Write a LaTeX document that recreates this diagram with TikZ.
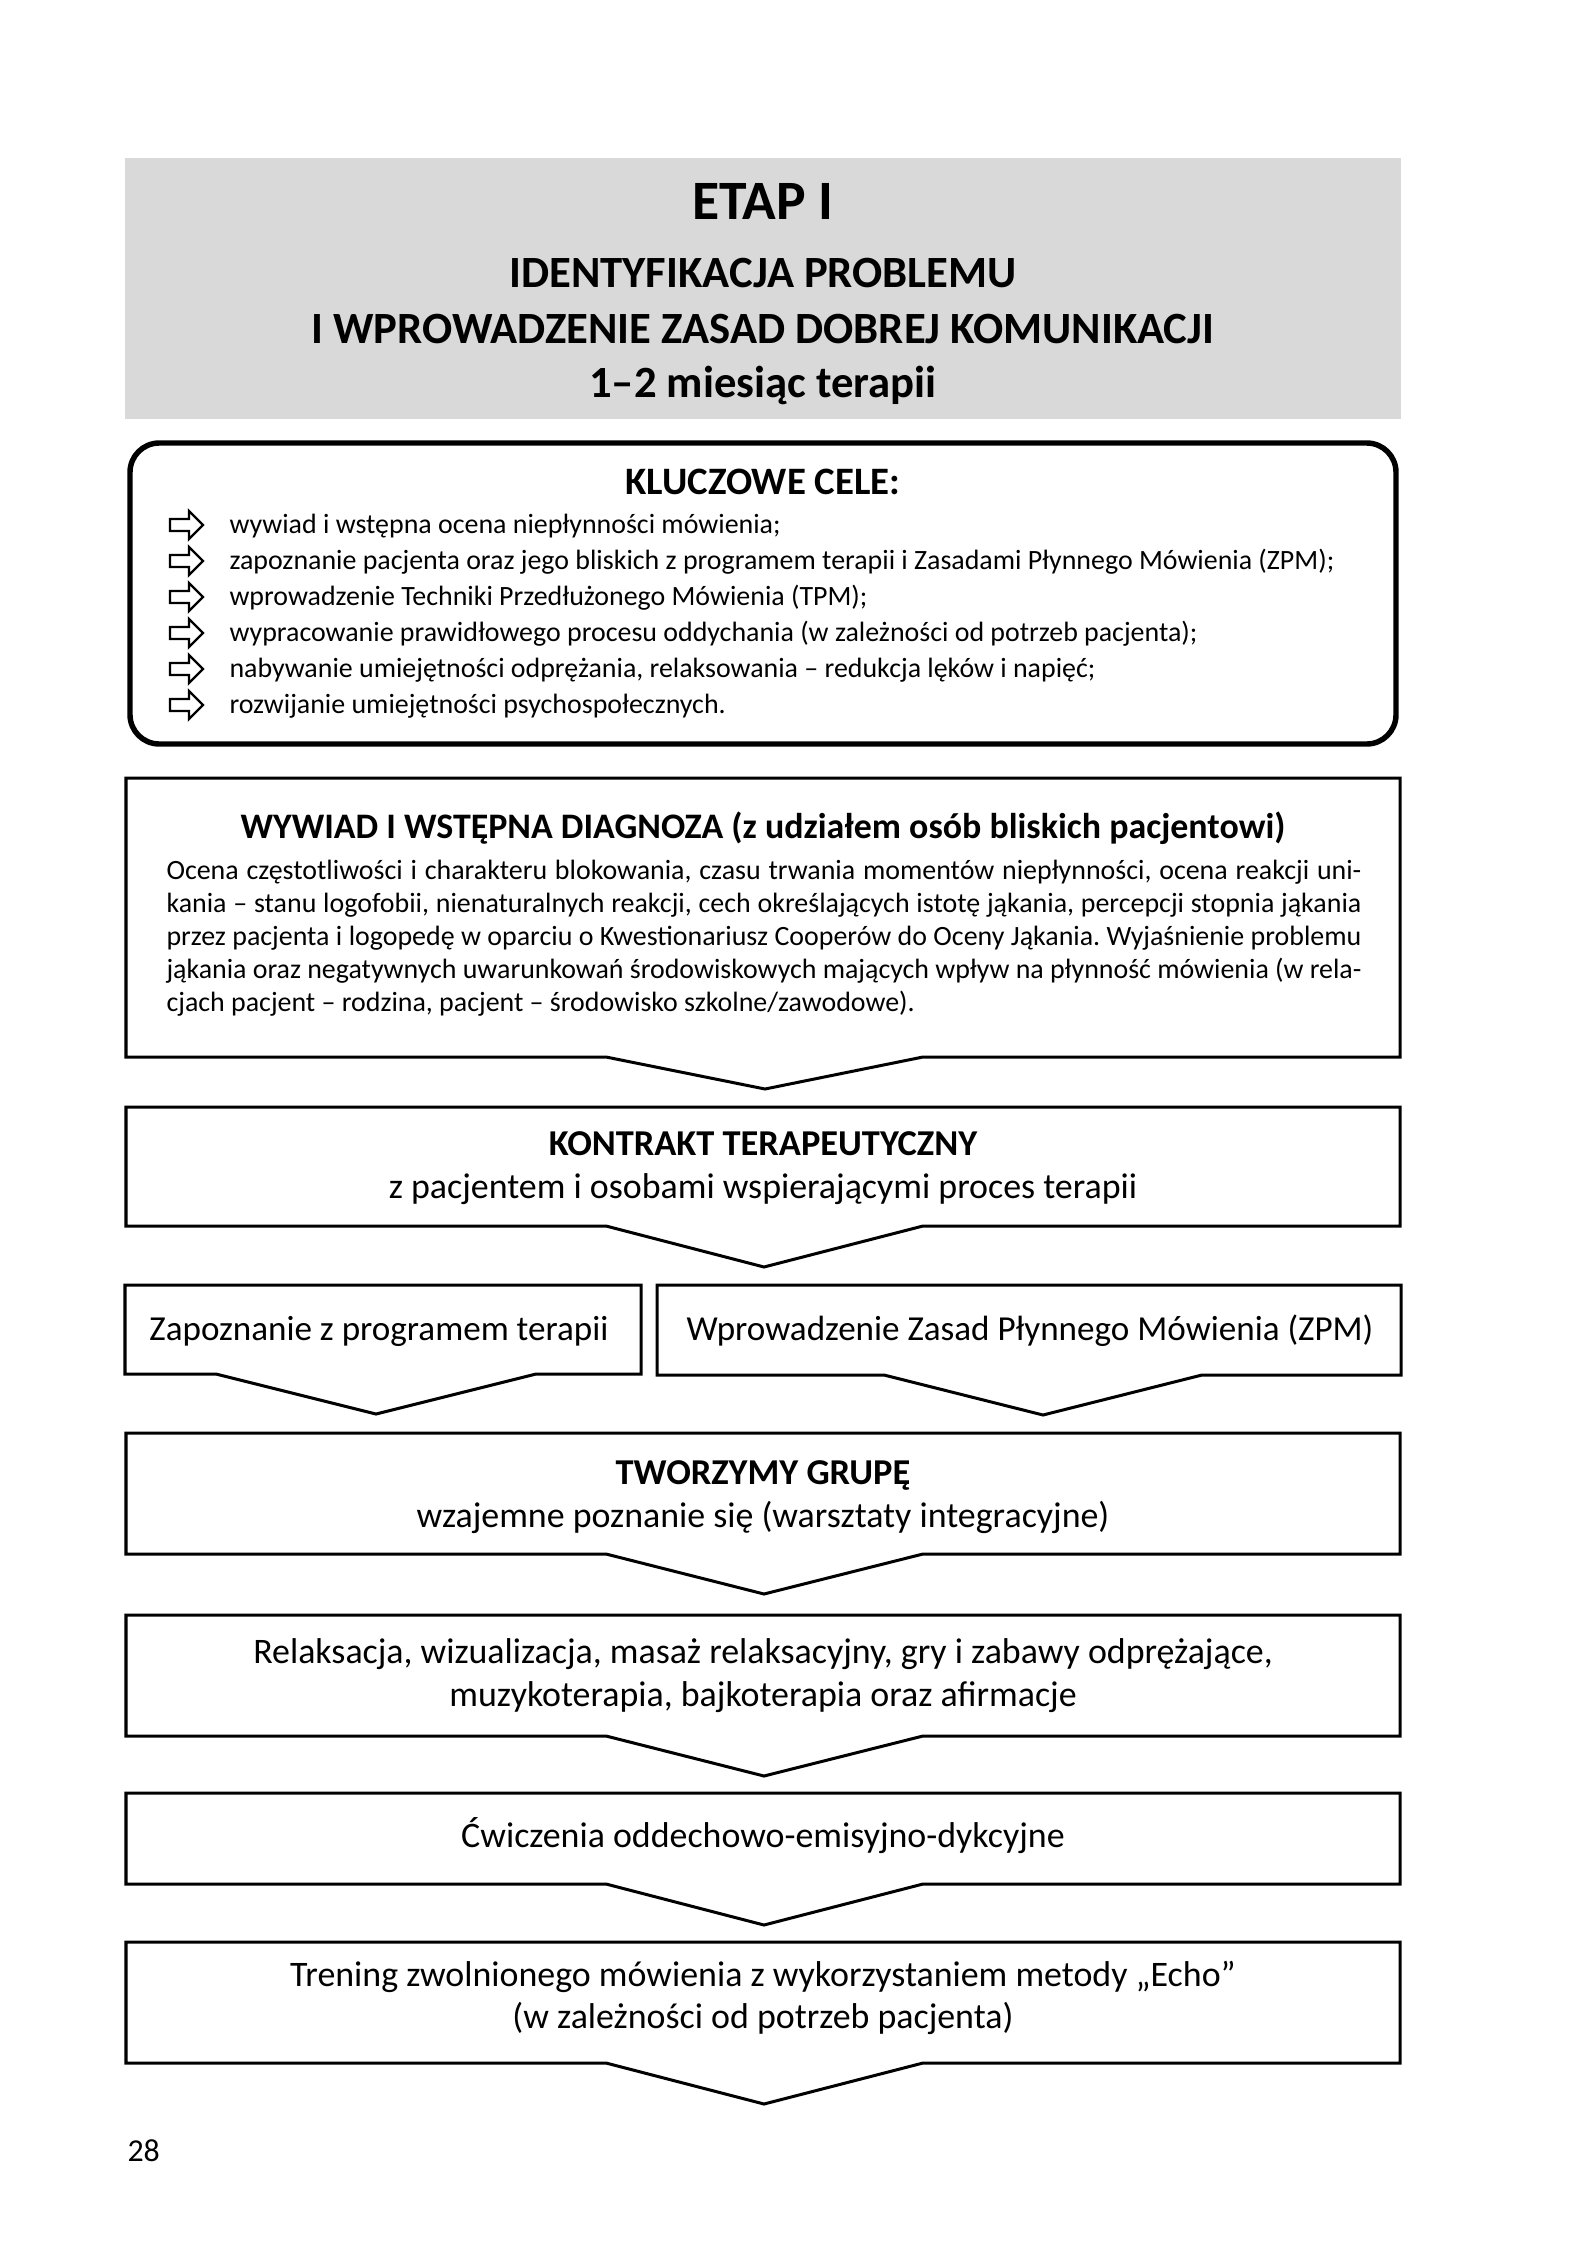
\documentclass[tikz,border=0pt]{standalone}
\usepackage{fontspec}
\setmainfont{Carlito}
\frenchspacing
\newcommand\chev[8]{\draw[boxline] (#1,#2) -- (#3,#2) -- (#3,#4) -- (#6,#4) -- (#7,#8) -- (#5,#4) -- (#1,#4) -- cycle;}
\newcommand\jline[1]{\hbox to 449.4pt{#1}}
\begin{document}
\begin{tikzpicture}[x=0.3761pt,y=-0.3761pt,
  boxline/.style={line width=1.13pt, line join=miter},
  txt/.style={inner sep=0pt, anchor=base},
  ttl/.style={txt, font=\fontsize{16.8}{20}\selectfont\bfseries},
  big/.style={txt, font=\fontsize{13.5}{16}\selectfont},
  mid/.style={txt, font=\fontsize{13.2}{16}\selectfont},
  bigb/.style={txt, font=\fontsize{13.7}{16}\selectfont\bfseries},
  item/.style={inner sep=0pt, anchor=base west, font=\fontsize{10.5}{13}\selectfont},
  body/.style={inner sep=0pt, anchor=base west, font=\fontsize{10.5}{12}\selectfont},
  icon/.style={line width=0.9pt, line join=miter}]
\useasboundingbox (0,0) rectangle (1582,2261);
\fill[white] (0,0) rectangle (1582,2261);
% header
\fill[fill={rgb,255:red,217;green,217;blue,217}] (125,158) rectangle (1401,419);
\node[txt, font=\fontsize{20.9}{24}\selectfont\bfseries] (etap) at (763,220) {ETAP I};
\node[ttl] (h1) at (763,288) {IDENTYFIKACJA PROBLEMU};
\node[ttl] (h2) at (763,343) {I WPROWADZENIE ZASAD DOBREJ KOMUNIKACJI};
\node[ttl] (h3) at (763,397) {1–2 miesiąc terapii};
% key goals
\draw[line width=2.05pt, rounded corners=11pt] (130,443) rectangle (1396,744);
\node[txt, font=\fontsize{14.6}{17}\selectfont\bfseries] (kc) at (763,494) {KLUCZOWE CELE:};
\foreach \yb/\t [count=\i] in {533/{wywiad i wstępna ocena niepłynności mówienia;},
  569/{zapoznanie pacjenta oraz jego bliskich z programem terapii i Zasadami Płynnego Mówienia (ZPM);},
  605/{wprowadzenie Techniki Przedłużonego Mówienia (TPM);},
  641/{wypracowanie prawidłowego procesu oddychania (w zależności od potrzeb pacjenta);},
  677/{nabywanie umiejętności odprężania, relaksowania – redukcja lęków i napięć;},
  713/{rozwijanie umiejętności psychospołecznych.}}{
  \pgfmathsetmacro\yc{\yb-8}
  \draw[icon] (170,\yc-6) -- (189,\yc-6) -- (189,\yc-14) -- (203,\yc) -- (189,\yc+14) -- (189,\yc+6) -- (170,\yc+6) -- cycle;
  \node[item] (it\i) at (229,\yb) {\t};
}
% boxes
\chev{126}{778}{1400}{1057}{606}{923}{765}{1089}
\chev{126}{1107}{1400}{1226}{606}{923}{764}{1267}
\chev{125}{1285}{641}{1374}{216}{536}{376}{1414}
\chev{657}{1285}{1401}{1375}{884}{1202}{1043}{1415}
\chev{126}{1433}{1400}{1554}{606}{923}{764}{1594}
\chev{126}{1615}{1400}{1736}{606}{923}{764}{1776}
\chev{126}{1793}{1400}{1884}{606}{923}{764}{1925}
\chev{126}{1942}{1400}{2063}{606}{923}{764}{2104}
% Wywiad
\node[txt, font=\fontsize{13.5}{16}\selectfont\bfseries] (w0) at (763,838) {WYWIAD I WSTĘPNA DIAGNOZA (z udziałem osób bliskich pacjentowi)};
\node[body] (w1) at (166,879) {\jline{Ocena częstotliwości i charakteru blokowania, czasu trwania momentów niepłynności, ocena reakcji uni-}};
\node[body] (w2) at (166,912) {\jline{kania – stanu logofobii, nienaturalnych reakcji, cech określających istotę jąkania, percepcji stopnia jąkania}};
\node[body] (w3) at (166,945) {\jline{przez pacjenta i logopedę w oparciu o Kwestionariusz Cooperów do Oceny Jąkania. Wyjaśnienie problemu}};
\node[body] (w4) at (166,978) {\jline{jąkania oraz negatywnych uwarunkowań środowiskowych mających wpływ na płynność mówienia (w rela-}};
\node[body] (w5) at (166,1011) {cjach pacjent – rodzina, pacjent – środowisko szkolne/zawodowe).};
% Kontrakt
\node[bigb] (k1) at (763,1155) {KONTRAKT TERAPEUTYCZNY};
\node[big] (k2) at (763,1198) {z pacjentem i osobami wspierającymi proces terapii};
% two boxes
\node[mid] (zp) at (379,1340) {Zapoznanie z programem terapii};
\node[mid] (zpm) at (1030,1340) {Wprowadzenie Zasad Płynnego Mówienia (ZPM)};
% Tworzymy
\node[bigb] (t1) at (763,1484) {TWORZYMY GRUPĘ};
\node[big] (t2) at (763,1527) {wzajemne poznanie się (warsztaty integracyjne)};
% Relaksacja
\node[big] (r1) at (763,1663) {Relaksacja, wizualizacja, masaż relaksacyjny, gry i zabawy odprężające,};
\node[big] (r2) at (763,1706) {muzykoterapia, bajkoterapia oraz afirmacje};
% Cwiczenia
\node[big] (c1) at (763,1847) {Ćwiczenia oddechowo-emisyjno-dykcyjne};
% Trening
\node[big] (tr1) at (763,1986) {Trening zwolnionego mówienia z wykorzystaniem metody „Echo”};
\node[big] (tr2) at (763,2028) {(w zależności od potrzeb pacjenta)};
% page number
\node[inner sep=0pt, anchor=base west, font=\fontsize{12}{14}\selectfont] (pg) at (127,2161) {28};
\end{tikzpicture}
\end{document}
